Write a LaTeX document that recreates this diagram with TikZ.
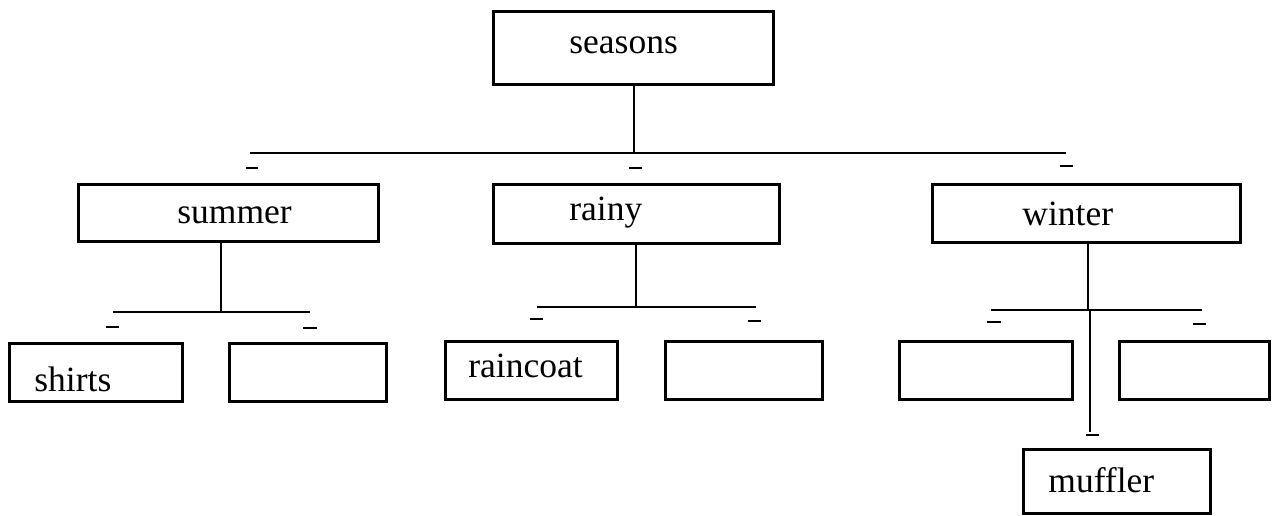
\documentclass[tikz,border=0pt]{standalone}
\usepackage{fontspec}
\setmainfont{Liberation Serif}
\begin{document}
\begin{tikzpicture}[x=1pt,y=-1pt,
  line width=2.8pt, line cap=butt,
  box/.style={draw, line width=2.8pt, rectangle, inner sep=0pt, anchor=north west},
  word/.style={anchor=base west, inner sep=0pt, font=\fontsize{35.5}{40}\selectfont},
  stub/.style={line width=2pt}]
\useasboundingbox (0,0) rectangle (1276,516);

% boxes: position by top-left corner, size in px
\newcommand{\mkbox}[5]{\node[box, minimum width=#4pt, minimum height=#5pt] (#1) at (#2,#3) {};}
\mkbox{seasons}{492}{10}{280}{73}
\mkbox{summer}{77}{183}{300}{57}
\mkbox{rainy}{492}{183}{286}{59}
\mkbox{winter}{931}{183}{308}{58}
\mkbox{shirts}{8}{342}{173}{58}
\mkbox{sumB}{228}{342}{157}{58}
\mkbox{raincoat}{444}{340}{172}{58}
\mkbox{rainB}{664}{340}{157}{58}
\mkbox{winA}{898}{340}{173}{58}
\mkbox{winB}{1118}{340}{150}{58}
\mkbox{muffler}{1022}{448}{187}{64}

% labels
\node[word] (seasons-t) at (568,54) {seasons};
\node[word] (summer-t) at (176,223) {summer};
\node[word] (rainy-t) at (568,220) {rainy};
\node[word] (winter-t) at (1021,225) {winter};
\node[word] (shirts-t) at (33,391) {shirts};
\node[word] (raincoat-t) at (467,377) {raincoat};
\node[word] (muffler-t) at (1047,492) {muffler};

% bars
\coordinate (topJ) at (634,153);
\coordinate (topL) at (250,153);
\coordinate (topR) at (1066,153);
\coordinate (sumJ) at (221,312);
\coordinate (sumL) at (113,312);
\coordinate (sumR) at (310,312);
\coordinate (rainJ) at (636,307);
\coordinate (rainL) at (537,307);
\coordinate (rainR) at (756,307);
\coordinate (winJ) at (1088,310);
\coordinate (winL) at (991,310);
\coordinate (winR) at (1202,310);
\coordinate (winD) at (1090,432);

\draw (seasons.south -| topJ) -- (topJ);
\draw (topL) -- (topR);
\draw (summer.south -| sumJ) -- (sumJ);
\draw (sumL) -- (sumR);
\draw (rainy.south -| rainJ) -- (rainJ);
\draw (rainL) -- (rainR);
\draw (winter.south -| winJ) -- (winJ);
\draw (winL) -- (winR);
\draw (1090,310) -- (winD);

% short marks under the bar ends
\draw[stub] (246,168) -- (258,168);
\draw[stub] (629,168) -- (642,168);
\draw[stub] (1060,166) -- (1073,166);
\draw[stub] (106,327) -- (119,327);
\draw[stub] (303,328) -- (317,328);
\draw[stub] (530,319) -- (543,319);
\draw[stub] (748,321) -- (761,321);
\draw[stub] (987,322) -- (1001,322);
\draw[stub] (1193,324) -- (1206,324);
\draw[stub] (1086,435) -- (1099,435);
\end{tikzpicture}
\end{document}
